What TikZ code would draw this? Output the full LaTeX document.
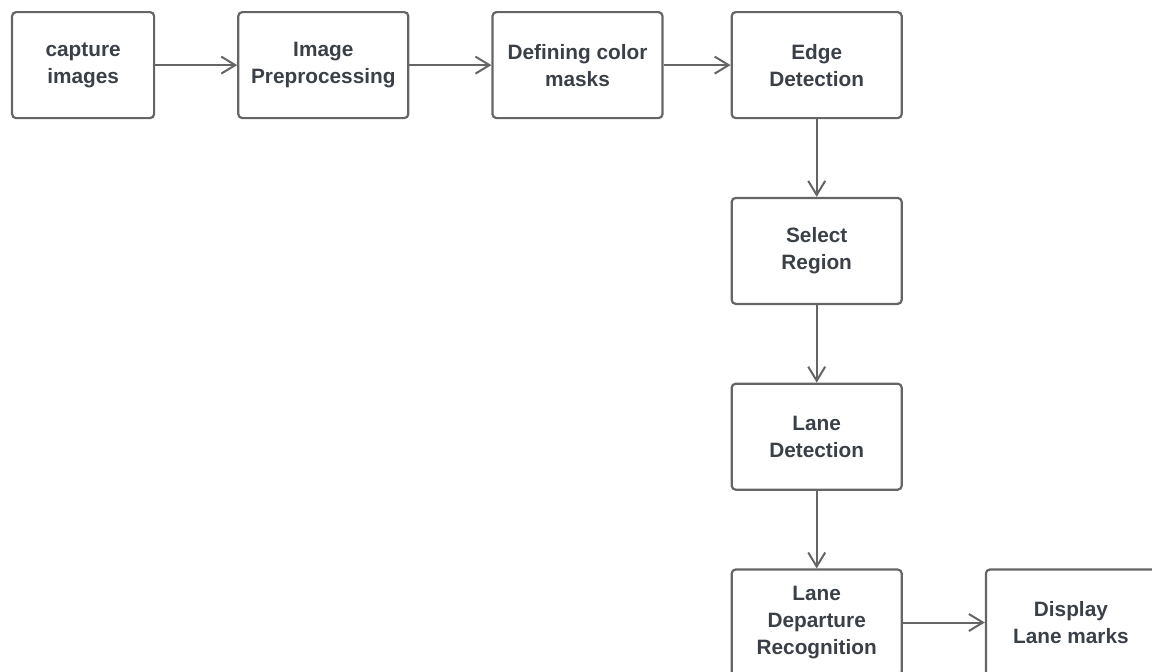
\documentclass[tikz,border=0pt]{standalone}
\usepackage{fontspec}
\setmainfont{Liberation Sans}
\usepackage{tikz}
\usetikzlibrary{arrows.meta,positioning}
\usepackage{xcolor}
\definecolor{boxline}{HTML}{656565}
\definecolor{boxtext}{HTML}{3B4047}

\begin{document}
\begin{tikzpicture}[
  node distance=38.8pt and 41pt,
  box/.style={draw=boxline,line width=1.1pt,rounded corners=2pt,align=center,
    font=\bfseries\fontsize{10.4}{13.5}\selectfont,text=boxtext,inner sep=0pt,
    minimum width=85pt,minimum height=53pt},
  arr/.style={-{Straight Barb[length=7pt,width=8.5pt,line width=1pt]},draw=boxline,line width=1pt}
]
\useasboundingbox (-5.5pt,5.5pt) rectangle ++(576pt,-335.5pt);
\node[box,minimum width=71pt,anchor=north west] (cap) at (0,0) {capture\\images};
\node[box,right=of cap] (pre) {Image\\Preprocessing};
\node[box,right=of pre] (mask) {Defining color\\masks};
\node[box,right=33.5pt of mask] (edge) {Edge\\Detection};
\node[box,below=of edge] (roi) {Select\\Region};
\node[box,below=of roi] (lane) {Lane\\Detection};
\node[box,below=of lane] (dep) {Lane\\Departure\\Recognition};
\node[box,right=of dep] (disp) {Display\\Lane marks};
\draw[arr] (cap) -- (pre);
\draw[arr] (pre) -- (mask);
\draw[arr] (mask) -- (edge);
\draw[arr] (edge) -- (roi);
\draw[arr] (roi) -- (lane);
\draw[arr] (lane) -- (dep);
\draw[arr] (dep) -- (disp);
\end{tikzpicture}
\end{document}
